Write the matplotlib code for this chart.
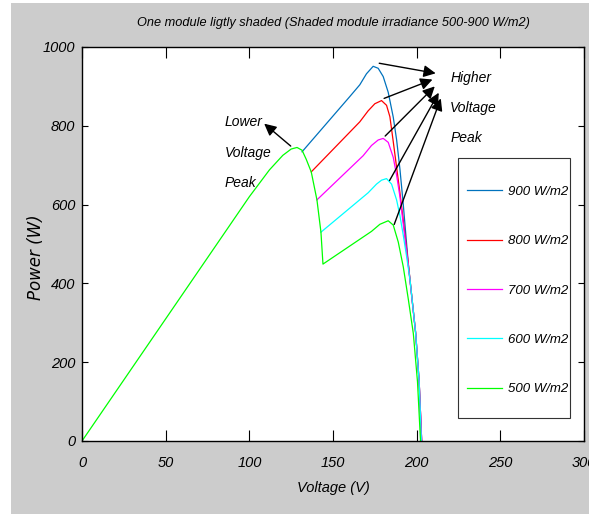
import matplotlib
matplotlib.use("Agg")
import matplotlib.pyplot as plt
from matplotlib.patches import Rectangle

plt.rcParams['font.family'] = ['Liberation Sans', 'DejaVu Sans']
plt.rcParams['font.style'] = 'italic'

# irradiance of the shaded module
labels = ['900 W/m2', '800 W/m2', '700 W/m2', '600 W/m2', '500 W/m2']
colors = ['#0072BD', '#FF0000', '#FF00FF', '#00FFFF', '#00FF00']

# common first part (low voltage peak), shared by all curves
v_low = [0, 100, 112, 120, 125, 128.5, 131.5]
p_low = [0, 620, 688, 725, 741, 745, 738]

# 900 W/m2
v_900 = [131.5, 160, 166, 170, 174, 177, 180, 183, 186, 188, 190, 192, 195, 199.4, 201.5, 203]
p_900 = [734, 874, 904, 932, 951, 946, 925, 885, 822, 765, 690, 600, 450, 274, 150, 0]
# 800 W/m2
v_800 = [137, 166, 171, 175, 179, 182, 184, 186, 188, 190, 192, 195, 199.4, 201.5, 203]
p_800 = [683, 810, 838, 856, 864, 852, 823, 760, 695, 630, 560, 450, 274, 150, 0]
# 700 W/m2
v_700 = [140.4, 168, 173, 177, 180, 183, 186, 188, 190, 192, 195, 199.4, 201.5, 203]
p_700 = [612, 724, 750, 764, 768, 758, 720, 675, 620, 550, 446, 274, 150, 0]
# 600 W/m2
v_600 = [142.8, 171, 176, 179, 182, 185, 188, 190, 192, 194, 196, 199.4, 201.5, 202.8]
p_600 = [530, 630, 652, 662, 666, 652, 612, 572, 522, 468, 410, 274, 150, 0]
# 500 W/m2 (green, after the low peak)
v_500 = [131.5, 134, 137, 140.4, 142.8, 144, 173, 178, 183, 186, 189, 192, 195, 198, 200.5, 202.3]
p_500 = [738, 715, 683, 612, 530, 449, 532, 550, 559, 548, 505, 442, 360, 273, 150, 0]

volts = [v_900, v_800, v_700, v_600, v_500]
powers = [p_900, p_800, p_700, p_600, p_500]

fig = plt.figure(figsize=(5.89, 5.14), dpi=100)
fig.patches.append(Rectangle((11 / 589, 0), 1, (514 - 3) / 514, transform=fig.transFigure,
                             facecolor='#cccccc', edgecolor='none', zorder=-10))
ax = fig.add_axes([82 / 589, 73 / 514, 502 / 589, 394 / 514])

for v, p, c, lab in zip(volts, powers, colors, labels):
    if c == '#00FF00':
        # green carries the shared low-voltage part
        v = v_low + v[1:]
        p = p_low + p[1:]
    ax.plot(v, p, color=c, lw=0.9, label=lab)

ax.set_xlim(0, 300)
ax.set_ylim(0, 1000)
ax.set_xticks([0, 50, 100, 150, 200, 250, 300])
ax.set_yticks([0, 200, 400, 600, 800, 1000])
ax.tick_params(axis='x', direction='in', top=True, length=8, width=0.8, labelsize=10.5, pad=11)
ax.tick_params(axis='y', direction='in', right=True, length=4, width=0.8, labelsize=10.5, pad=5)
for s in ax.spines.values():
    s.set_linewidth(1.0)

ax.set_title('One module ligtly shaded (Shaded module irradiance 500-900 W/m2)', fontsize=9.2, pad=15)
ax.set_xlabel('Voltage (V)', fontsize=10.5, labelpad=8)
ax.set_ylabel('Power (W)', fontsize=12, family='DejaVu Sans')
ax.yaxis.set_label_coords(-0.074, 0.467)

# legend box drawn separately so the rows can be spread out like the original
ax.add_patch(Rectangle((0.749, 0.058), 0.223, 0.66, transform=ax.transAxes, facecolor='white',
                       edgecolor='#333333', lw=0.8, zorder=4))
leg = ax.legend(loc='upper left', bbox_to_anchor=(0.767, 0.648), fontsize=9.5, frameon=False,
                labelspacing=2.81, handlelength=2.65, handletextpad=0.45, borderpad=0,
                borderaxespad=0)
leg.set_zorder(5)

# Lower voltage peak
arr = dict(arrowstyle='-|>', color='black', lw=1.0, mutation_scale=18)
ax.annotate('', xy=(107.6, 810), xytext=(126, 744), arrowprops=arr)
ax.text(85.5, 827, 'Lower\nVoltage\nPeak', fontsize=10, ha='left', va='top', linespacing=2.5)

# Higher voltage peak
tails = [(176, 960), (179, 867), (180, 769), (183, 655), (186, 543)]
heads = [(213, 932), (211, 920), (212, 905), (214, 890), (215, 876)]
for t, h in zip(tails, heads):
    ax.annotate('', xy=h, xytext=t, arrowprops=arr)
ax.text(220, 938, 'Higher\nVoltage\nPeak', fontsize=10, ha='left', va='top', linespacing=2.45)

fig.savefig('out.png', dpi=100)
